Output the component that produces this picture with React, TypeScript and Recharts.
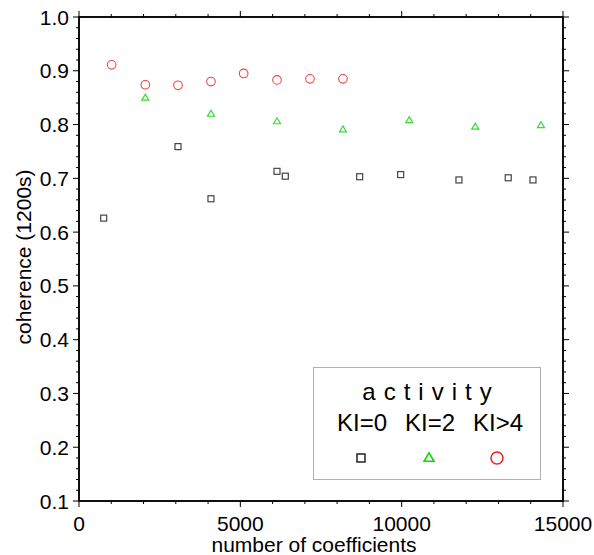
import { ScatterChart, Scatter, XAxis, YAxis, Legend } from 'recharts';

const kiZeroX = [765, 3068, 4090, 6136, 6394, 8698, 9969, 11775, 13303, 14069];
const kiZeroY = [0.626, 0.759, 0.662, 0.713, 0.704, 0.703, 0.707, 0.697, 0.701, 0.697];
const kiTwoX = [2055, 4090, 6136, 8181, 10236, 12281, 14317];
const kiTwoY = [0.851, 0.821, 0.807, 0.792, 0.809, 0.797, 0.8];
const kiFourX = [1013, 2055, 3068, 4090, 5103, 6136, 7158, 8181];
const kiFourY = [0.911, 0.874, 0.873, 0.88, 0.895, 0.883, 0.885, 0.885];

const seriesLabels = ['KI=0', 'KI=2', 'KI>4'];
const legendTitle = 'activity';
const xTitle = 'number of coefficients';
const yTitle = 'coherence (1200s)';

const xMajorTicks = [0, 5000, 10000, 15000];
const yMajorTicks = [0.1, 0.2, 0.3, 0.4, 0.5, 0.6, 0.7, 0.8, 0.9, 1.0];
const xDomain = [0, 15000];
const yDomain = [0.1, 1.0];

const FONT = '"Liberation Sans", Arial, Helvetica, sans-serif';

const W = 594;
const H = 555;
const M_TOP = 16;
const M_RIGHT = 30;
const Y_AXIS_W = 79;
const X_AXIS_H = 54;
// plot frame (top/right axes take 1px each)
const PLOT_L = Y_AXIS_W;
const PLOT_T = M_TOP + 1;
const PLOT_R = W - M_RIGHT - 1;
const PLOT_B = H - X_AXIS_H;

// minor ticks every 1000 on x, every 0.02 on y
const xTicks: number[] = [];
for (let v = 0; v <= 15000; v += 1000) xTicks.push(v);
const yTicks: number[] = [];
for (let i = 5; i <= 50; i++) yTicks.push(i / 50);

const toPoints = (xs: number[], ys: number[]) => xs.map((x, i) => ({ x, y: ys[i] }));
const kiZero = toPoints(kiZeroX, kiZeroY);
const kiTwo = toPoints(kiTwoX, kiTwoY);
const kiFour = toPoints(kiFourX, kiFourY);

const isMajorX = (v: number) => xMajorTicks.includes(v);
const isMajorY = (v: number) => yMajorTicks.some((m) => Math.abs(m - v) < 1e-6);

const SquareMark = ({ cx, cy, size = 6, stroke = '#444', sw = 1.2 }: any) => (
  <rect x={cx - size / 2} y={cy - size / 2} width={size} height={size} fill="none" stroke={stroke} strokeWidth={sw} />
);
const TriangleMark = ({ cx, cy, size = 7, stroke = '#33dd33', sw = 1.2 }: any) => {
  const h = size * 0.85;
  return (
    <polygon
      points={`${cx - size / 2},${cy + h / 2} ${cx + size / 2},${cy + h / 2} ${cx},${cy - h / 2}`}
      fill="none"
      stroke={stroke}
      strokeWidth={sw}
    />
  );
};
const CircleMark = ({ cx, cy, r = 4.3, stroke = '#ee4444', sw = 1.1 }: any) => (
  <circle cx={cx} cy={cy} r={r} fill="none" stroke={stroke} strokeWidth={sw} />
);

const BottomTick = ({ x, y, payload }: any) => {
  const major = isMajorX(payload.value);
  return (
    <g>
      <line x1={x} y1={y} x2={x} y2={y + (major ? 6 : 3)} stroke="#000" strokeWidth={1} />
      {major && (
        <text x={x} y={y + 22} textAnchor="middle" dominantBaseline="central" fontFamily={FONT} fontSize={21} fill="#000">
          {payload.value}
        </text>
      )}
    </g>
  );
};
const TopTick = ({ x, y, payload }: any) => (
  <line x1={x} y1={y} x2={x} y2={y - (isMajorX(payload.value) ? 6 : 3)} stroke="#000" strokeWidth={1} />
);
const LeftTick = ({ x, y, payload }: any) => {
  const major = isMajorY(payload.value);
  return (
    <g>
      <line x1={x} y1={y} x2={x - (major ? 6 : 3)} y2={y} stroke="#000" strokeWidth={1} />
      {major && (
        <text x={x - 10} y={y} textAnchor="end" dominantBaseline="central" fontFamily={FONT} fontSize={21} fill="#000">
          {payload.value.toFixed(1)}
        </text>
      )}
    </g>
  );
};
const RightTick = ({ x, y, payload }: any) => (
  <line x1={x} y1={y} x2={x + (isMajorY(payload.value) ? 6 : 3)} y2={y} stroke="#000" strokeWidth={1} />
);

const renderXTitle = () => (
  <text x={314} y={544} textAnchor="middle" dominantBaseline="central" fontFamily={FONT} fontSize={21} fill="#000">
    {xTitle}
  </text>
);
const renderYTitle = () => (
  <text
    x={23}
    y={257}
    transform="rotate(-90 23 257)"
    textAnchor="middle"
    dominantBaseline="central"
    fontFamily={FONT}
    fontSize={21}
    fill="#000"
  >
    {yTitle}
  </text>
);

const legendCols = [48, 116, 184];

const renderLegend = () => (
  <svg width={228} height={113} style={{ display: 'block' }}>
    <rect x={0.5} y={0.5} width={227} height={112} fill="#fff" stroke="#b0b0b0" strokeWidth={1} />
    <text x={118} y={24} textAnchor="middle" dominantBaseline="central" fontFamily={FONT} fontSize={24} letterSpacing={8} fill="#000">
      {legendTitle}
    </text>
    {seriesLabels.map((label, i) => (
      <text key={label} x={legendCols[i] + 1} y={55} textAnchor="middle" dominantBaseline="central" fontFamily={FONT} fontSize={24} fill="#000">
        {label}
      </text>
    ))}
    <SquareMark cx={legendCols[0]} cy={91} size={8} stroke="#222" sw={1.5} />
    <TriangleMark cx={legendCols[1]} cy={90} size={10} stroke="#00dd00" sw={1.5} />
    <CircleMark cx={legendCols[2]} cy={91} r={6} stroke="#ee2222" sw={1.5} />
  </svg>
);

const axisLine = { stroke: '#000', strokeWidth: 1.5 };

export default function App() {
  return (
    <div style={{ position: 'absolute', left: 0, top: 0, width: W, height: H, background: '#fff' }}>
      <ScatterChart width={W} height={H} margin={{ top: M_TOP, right: M_RIGHT, left: 0, bottom: 0 }}>
        <XAxis
          xAxisId="bottom"
          dataKey="x"
          type="number"
          orientation="bottom"
          domain={xDomain}
          ticks={xTicks}
          interval={0}
          height={X_AXIS_H}
          tickSize={0}
          tickMargin={0}
          tick={BottomTick}
          axisLine={axisLine}
          label={renderXTitle}
        />
        <XAxis
          xAxisId="top"
          dataKey="x"
          type="number"
          orientation="top"
          domain={xDomain}
          ticks={xTicks}
          interval={0}
          height={1}
          tickSize={0}
          tickMargin={0}
          tick={TopTick}
          axisLine={axisLine}
        />
        <YAxis
          yAxisId="left"
          dataKey="y"
          type="number"
          orientation="left"
          domain={yDomain}
          ticks={yTicks}
          interval={0}
          width={Y_AXIS_W}
          tickSize={0}
          tickMargin={0}
          tick={LeftTick}
          axisLine={axisLine}
          label={renderYTitle}
        />
        <YAxis
          yAxisId="right"
          dataKey="y"
          type="number"
          orientation="right"
          domain={yDomain}
          ticks={yTicks}
          interval={0}
          width={1}
          tickSize={0}
          tickMargin={0}
          tick={RightTick}
          axisLine={axisLine}
        />
        <rect
          x={PLOT_L}
          y={PLOT_T}
          width={PLOT_R - PLOT_L}
          height={PLOT_B - PLOT_T}
          fill="none"
          stroke="#000"
          strokeWidth={1.5}
        />
        <Scatter name={seriesLabels[0]} data={kiZero} xAxisId="bottom" yAxisId="left" shape={(p: any) => <SquareMark cx={p.cx} cy={p.cy} />} isAnimationActive={false} />
        <Scatter name={seriesLabels[1]} data={kiTwo} xAxisId="bottom" yAxisId="left" shape={(p: any) => <TriangleMark cx={p.cx} cy={p.cy} />} isAnimationActive={false} />
        <Scatter name={seriesLabels[2]} data={kiFour} xAxisId="bottom" yAxisId="left" shape={(p: any) => <CircleMark cx={p.cx} cy={p.cy} />} isAnimationActive={false} />
        <Scatter data={kiZero} xAxisId="top" yAxisId="right" shape={() => <g />} isAnimationActive={false} legendType="none" />
        <Legend
          layout="horizontal"
          verticalAlign="middle"
          align="center"
          content={renderLegend}
          wrapperStyle={{ position: 'absolute', left: 313, top: 367, width: 228, height: 113 }}
        />
      </ScatterChart>
    </div>
  );
}
